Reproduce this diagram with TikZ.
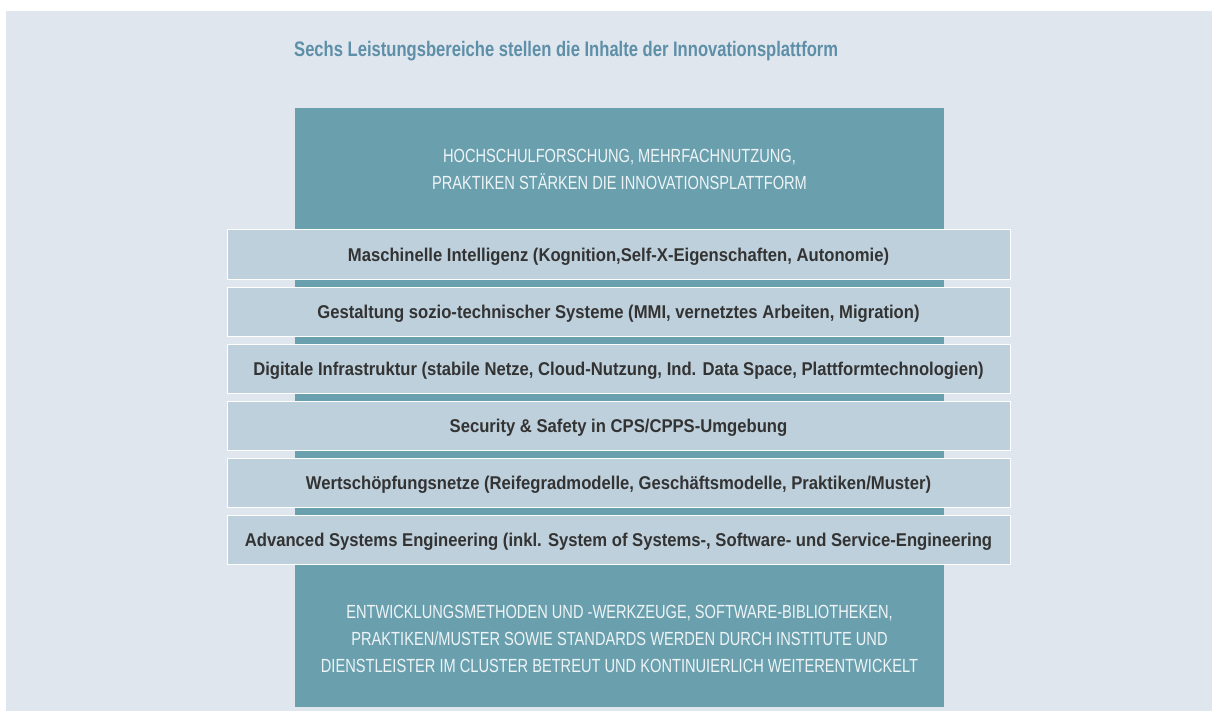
\documentclass[tikz,border=0pt]{standalone}
\usepackage{fontspec}
\setmainfont{Liberation Sans}[FakeStretch=0.77]
\newfontfamily\titlefont{Liberation Sans}[FakeStretch=0.79]
\newfontfamily\barfont{Liberation Sans}[FakeStretch=0.90]
\definecolor{bgc}{HTML}{DFE6ED}
\definecolor{tealc}{HTML}{6AA0AE}
\definecolor{barc}{HTML}{BED0DC}
\definecolor{titlec}{HTML}{5E8FA8}
\definecolor{bartext}{HTML}{333333}
\definecolor{lighttext}{HTML}{EEF4F6}
\begin{document}
\begin{tikzpicture}[x=1pt,y=-1pt,
  bar/.style={draw=white,line width=1pt,fill=barc,minimum width=783pt,minimum height=49pt,inner sep=0pt},
  bartxt/.style={anchor=base,text=bartext,font=\barfont\fontsize{18.5}{20}\selectfont\bfseries,inner sep=0pt},
  lighttxt/.style={anchor=base,text=lighttext,font=\fontsize{19}{27}\selectfont,inner sep=0pt,align=center},
  ]
\useasboundingbox (0,0) rectangle (1212,711);
\fill[white] (0,0) rectangle (1212,711);
\fill[bgc] (6,11) rectangle (1212,711);
\node[fill=tealc,minimum width=649pt,minimum height=599pt,inner sep=0pt] (teal) at (619.5,407.5) {};
\node[anchor=base west,text=titlec,font=\titlefont\fontsize{21}{23}\selectfont\bfseries,inner sep=0pt] (title) at (294,57) {Sechs Leistungsbereiche stellen die Inhalte der Innovationsplattform};
\node[lighttxt] (t1) at (619.5,163) {HOCHSCHULFORSCHUNG, MEHRFACHNUTZUNG,};
\node[lighttxt] (t2) at (619.5,190) {PRAKTIKEN STÄRKEN DIE INNOVATIONSPLATTFORM};
\node[bar] (b1) at (618.5,254.5) {};
\node[bar] (b2) at (618.5,311.5) {};
\node[bar] (b3) at (618.5,368.5) {};
\node[bar] (b4) at (618.5,425.5) {};
\node[bar] (b5) at (618.5,482.5) {};
\node[bar] (b6) at (618.5,539.5) {};
\node[bartxt] (l1) at (618.5,261.2) {Maschinelle Intelligenz (Kognition,Self-X-Eigenschaften, Autonomie)};
\node[bartxt] (l2) at (618.5,318.2) {Gestaltung sozio-technischer Systeme (MMI, vernetztes Arbeiten, Migration)};
\node[bartxt] (l3) at (618.5,375.2) {Digitale Infrastruktur (stabile Netze, Cloud-Nutzung, Ind. Data Space, Plattformtechnologien)};
\node[bartxt] (l4) at (618.5,432.2) {Security \& Safety in CPS/CPPS-Umgebung};
\node[bartxt] (l5) at (618.5,489.2) {Wertschöpfungsnetze (Reifegradmodelle, Geschäftsmodelle, Praktiken/Muster)};
\node[bartxt] (l6) at (618.5,546.5) {Advanced Systems Engineering (inkl. System of Systems-, Software- und Service-Engineering};
\node[lighttxt] (u1) at (619.5,618) {ENTWICKLUNGSMETHODEN UND -WERKZEUGE, SOFTWARE-BIBLIOTHEKEN,};
\node[lighttxt] (u2) at (619.5,645) {PRAKTIKEN/MUSTER SOWIE STANDARDS WERDEN DURCH INSTITUTE UND};
\node[lighttxt] (u3) at (619.5,672) {DIENSTLEISTER IM CLUSTER BETREUT UND KONTINUIERLICH WEITERENTWICKELT};
\end{tikzpicture}
\end{document}
